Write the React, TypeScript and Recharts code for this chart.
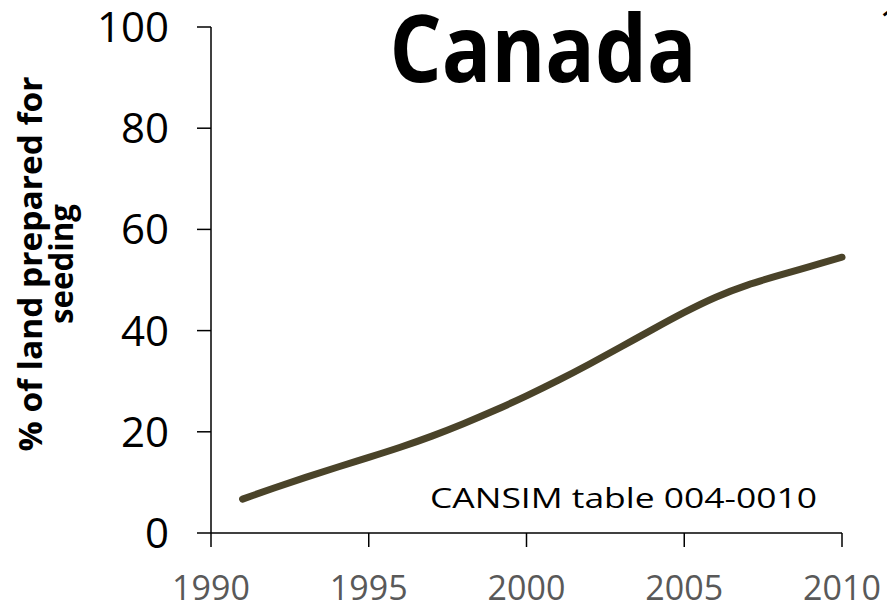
import React from "react";
import { LineChart, Line, XAxis, YAxis, Label } from "recharts";

// land prepared for seeding, Canada (CANSIM 004-0010)
const years = [
  1991, 1992, 1993, 1994, 1995, 1996, 1997, 1998, 1999, 2000,
  2001, 2002, 2003, 2004, 2005, 2006, 2007, 2008, 2009, 2010,
];
const seededShare = [
  6.7, 8.9, 11.0, 13.0, 14.95, 16.95, 19.15, 21.6, 24.25, 27.1,
  30.15, 33.4, 36.8, 40.25, 43.6, 46.6, 49.0, 50.9, 52.7, 54.5,
];
const xTicks = [1990, 1995, 2000, 2005, 2010];
const yTicks = [0, 20, 40, 60, 80, 100];

const data = years.map((year, i) => ({ year, value: seededShare[i] }));

const font = "'Open Sans', 'Noto Sans', sans-serif";

const YLabel = () => (
  <g transform="translate(0,264) rotate(-90)">
    <text
      x={0}
      y={42}
      textAnchor="middle"
      fontFamily={font}
      fontWeight="bold"
      fontSize={33}
      fill="#000"
      textLength={375}
      lengthAdjust="spacingAndGlyphs"
    >
      % of land prepared for
    </text>
    <text
      x={0}
      y={73}
      textAnchor="middle"
      fontFamily={font}
      fontWeight="bold"
      fontSize={33}
      fill="#000"
      textLength={120}
      lengthAdjust="spacingAndGlyphs"
    >
      seeding
    </text>
  </g>
);

export default function App() {
  return (
    <div style={{ position: "absolute", left: 0, top: 0, width: 887, height: 609, background: "#fff" }}>
      <LineChart
        width={887}
        height={609}
        data={data}
        margin={{ top: 27, right: 45, left: 0, bottom: 0 }}
      >
        <XAxis
          dataKey="year"
          type="number"
          domain={[1990, 2010]}
          ticks={xTicks}
          height={76}
          tickSize={14}
          tickMargin={29}
          axisLine={{ stroke: "#000", strokeWidth: 1.5 }}
          tickLine={{ stroke: "#000", strokeWidth: 1.5 }}
          tick={{ fill: "#595959", fontSize: 34, fontFamily: font }}
        />
        <YAxis
          type="number"
          domain={[0, 100]}
          ticks={yTicks}
          width={211}
          tickSize={14}
          tickMargin={28}
          axisLine={{ stroke: "#000", strokeWidth: 1.5 }}
          tickLine={{ stroke: "#000", strokeWidth: 1.5 }}
          tick={{ fill: "#000", fontSize: 42, fontFamily: font }}
        >
          <Label content={<YLabel />} />
        </YAxis>
        <Line
          type="natural"
          dataKey="value"
          stroke="#4A4329"
          strokeWidth={7}
          strokeLinecap="round"
          dot={false}
          isAnimationActive={false}
        />
      </LineChart>
      <svg
        width={887}
        height={609}
        style={{ position: "absolute", left: 0, top: 0, pointerEvents: "none" }}
      >
        <text
          x={543}
          y={82}
          textAnchor="middle"
          fontFamily={font}
          fontWeight="bold"
          fontSize={94}
          fill="#000"
          textLength={307}
          lengthAdjust="spacingAndGlyphs"
        >
          Canada
        </text>
        <text
          x={817}
          y={508}
          textAnchor="end"
          fontFamily={font}
          fontSize={28}
          fill="#000"
          textLength={387}
          lengthAdjust="spacingAndGlyphs"
        >
          CANSIM table 004-0010
        </text>
        <text x={879} y={38} fontFamily={font} fontSize={42} fill="#000">
          100
        </text>
      </svg>
    </div>
  );
}
